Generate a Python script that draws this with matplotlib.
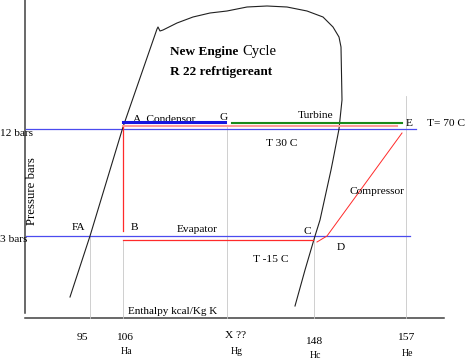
import numpy as np
import matplotlib.pyplot as plt

plt.rcParams['font.family'] = ['Liberation Serif', 'DejaVu Serif']

# saturation dome (drawn by hand, image-like coordinates)
dome_x = [70, 90, 123, 157, 158, 160, 163, 177, 193, 210, 227, 247, 267, 287, 307, 323, 333, 339, 341,
          342, 339, 333, 331, 320, 315, 305, 295]
dome_y = [297, 236, 127, 29, 27, 31, 30, 23, 17, 13, 11, 7, 6, 7, 11, 17, 27, 37, 47,
          100, 129, 160, 170, 220, 236, 270, 306]

# pressure levels
p_labels = ['12 bars', '3 bars']
p_y = [129, 236]
p_x_end = [416, 410]

# cycle pieces
cond_x = [123, 225]        # condensor (blue)
turb_x = [232, 402]        # turbine (green)
hot_x = [123, 397]         # pink line at top
evap_x = [123, 313]        # evaporator (red)
liq_y = [127, 231]         # red vertical at A-B
comp_x = [317, 327, 402]   # compressor
comp_y = [242, 236, 133]

# enthalpy axis
h_vals = ['95', '106', 'X ??', '148', '157']
h_names = ['', 'Ha', 'Hg', 'Hc', 'He']
h_x = [82, 125, 236, 314, 406]
h_guides = [90, 123, 227, 314, 406]
guide_top = [236, 240, 126, 236, 96]

fig = plt.figure(figsize=(4.67, 3.61), dpi=100)
ax = fig.add_axes([0, 0, 1, 1])
ax.set_xlim(0, 467)
ax.set_ylim(361, 0)
ax.axis('off')

# axes lines
ax.plot([25, 25], [0, 313], color='#404040', lw=1.1)
ax.plot([25, 444], [318, 318], color='#404040', lw=1.1)

# guide lines
for gx, gt in zip(h_guides, guide_top):
    ax.plot([gx, gx], [gt, 318], color='#c8c8c8', lw=0.6)

# pressure lines
for py, pe in zip(p_y, p_x_end):
    ax.plot([26, pe], [py, py], color='#4b4bef', lw=0.9)

ax.plot(dome_x, dome_y, color='#202020', lw=0.8)

ax.plot(hot_x, [126, 126], color='#ff9a9a', lw=1.5)
ax.plot(cond_x, [122, 122], color='#1515e0', lw=2.2)
ax.plot(turb_x, [123, 123], color='#1a8a1a', lw=1.5)
ax.plot([123, 123], liq_y, color='#ff2a2a', lw=0.9)
ax.plot(evap_x, [240, 240], color='#ff2a2a', lw=0.9)
ax.plot(comp_x, comp_y, color='#ff2a2a', lw=0.7)

fs = 8.2
for lab, py in zip(p_labels, p_y):
    ax.text(0, py + 4, lab, fontsize=fs, va='center', ha='left')
ax.text(32, 191, 'Pressure bars', fontsize=9.2, rotation=90, va='center', ha='center')

ax.text(170, 52, 'New Engine', fontsize=9.5, fontweight='bold', va='center')
ax.text(242, 52, 'Cycle', fontsize=10.5, va='center')
ax.text(170, 72, 'R 22 refrtigereant', fontsize=9.5, fontweight='bold', va='center')

ax.text(133, 119, 'A  Condensor', fontsize=fs, va='center', zorder=1)
ax.text(220, 117, 'G', fontsize=fs, va='center')
ax.text(298, 116, 'Turbine', fontsize=fs, va='center')
ax.text(406, 123, 'E', fontsize=fs, va='center')
ax.text(427, 123, 'T= 70 C', fontsize=fs, va='center')
ax.text(266, 143, 'T 30 C', fontsize=fs, va='center')
ax.text(350, 192, 'Compressor', fontsize=fs, va='center')
ax.text(72, 227, 'FA', fontsize=fs, va='center')
ax.text(131, 228, 'B', fontsize=fs, va='center')
ax.text(177, 230, 'Evapator', fontsize=fs, va='center')
ax.text(304, 231, 'C', fontsize=fs, va='center')
ax.text(337, 248, 'D', fontsize=fs, va='center')
ax.text(253, 260, 'T -15 C', fontsize=fs, va='center')
ax.text(128, 311, 'Enthalpy kcal/Kg K', fontsize=8, va='center')

val_y = [338, 338, 336, 342, 338]
name_y = [352, 352, 352, 356, 353]
for v, n, x, vy, ny in zip(h_vals, h_names, h_x, val_y, name_y):
    ax.text(x, vy, v, fontsize=fs, ha='center', va='center')
    if n:
        ax.text(x + 1, ny, n, fontsize=7, ha='center', va='center')

fig.savefig('out.png', dpi=100)
